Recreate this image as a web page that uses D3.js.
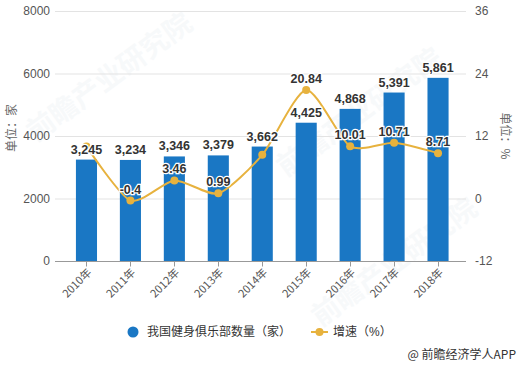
<!DOCTYPE html>
<html>
<head>
<meta charset="utf-8">
<script src="https://cdn.jsdelivr.net/npm/d3@7"></script>
<style>
  body { margin: 0; background: #fff; }
  text { font-family: "Liberation Sans", "Noto Sans CJK SC", sans-serif; }
</style>
</head>
<body>
<svg id="chart"></svg>
<script>
// data
var years = ["2010年", "2011年", "2012年", "2013年", "2014年", "2015年", "2016年", "2017年", "2018年"];
var clubs = [3245, 3234, 3346, 3379, 3662, 4425, 4868, 5391, 5861];
var growth = [10, -0.4, 3.46, 0.99, 8.38, 20.84, 10.01, 10.71, 8.71];
// growth labels hidden where they overlap the bar labels
var growthLabels = [null, "-0.4", "3.46", "0.99", null, "20.84", "10.01", "10.71", "8.71"];
var leftTicks = [0, 2000, 4000, 6000, 8000];
var rightTicks = [-12, 0, 12, 24, 36];

var width = 522, height = 366;
var margin = {left: 55, right: 56, top: 11, bottom: 105};
var blue = "#1a77c4", gold = "#e7b23e";

var svg = d3.select("#chart")
  .attr("width", width)
  .attr("height", height);

// faint watermark
[[115, 85], [365, 120], [400, 270]].forEach(function(p) {
  svg.append("text")
    .attr("transform", "translate(" + p[0] + "," + p[1] + ")rotate(-36)")
    .attr("text-anchor", "middle")
    .style("font-family", "Noto Sans CJK SC")
    .style("font-size", "28px")
    .style("font-weight", "bold")
    .style("fill", "#c5d3e0")
    .style("opacity", 0.13);
});
svg.selectAll("text").text("前瞻产业研究院");

var x = d3.scaleBand()
  .domain(years)
  .range([64.5, 460])
  .paddingInner(0.52)
  .paddingOuter(0.26);

var y = d3.scaleLinear()
  .domain([0, 8000])
  .range([height - margin.bottom, margin.top]);

var y2 = d3.scaleLinear()
  .domain([-12, 36])
  .range([height - margin.bottom, margin.top]);

// gridlines
svg.append("g")
  .selectAll("line")
  .data(leftTicks.slice(1))
  .enter()
  .append("line")
  .attr("x1", margin.left)
  .attr("x2", width - margin.right)
  .attr("y1", function(d) { return y(d) + 0.5; })
  .attr("y2", function(d) { return y(d) + 0.5; })
  .style("stroke", "#e3e3e3");

// left axis labels
svg.append("g")
  .selectAll("text")
  .data(leftTicks)
  .enter()
  .append("text")
  .attr("x", 50)
  .attr("y", function(d) { return y(d); })
  .attr("dy", "0.35em")
  .attr("text-anchor", "end")
  .style("font-size", "12px")
  .style("fill", "#555")
  .text(function(d) { return d; });

// right axis labels
svg.append("g")
  .selectAll("text")
  .data(rightTicks)
  .enter()
  .append("text")
  .attr("x", 475)
  .attr("y", function(d) { return y2(d); })
  .attr("dy", "0.35em")
  .style("font-size", "12px")
  .style("fill", "#555")
  .text(function(d) { return d; });

// axis titles
svg.append("text")
  .attr("transform", "translate(16,128)rotate(-90)")
  .attr("text-anchor", "middle")
  .style("font-family", "Noto Sans CJK SC")
  .style("font-size", "12px")
  .style("fill", "#666")
  .text("单位：家");

svg.append("text")
  .attr("transform", "translate(501,136)rotate(90)")
  .attr("text-anchor", "middle")
  .style("font-family", "Noto Sans CJK SC")
  .style("font-size", "12px")
  .style("fill", "#666")
  .text("单位：%");

// bars
svg.append("g")
  .selectAll("rect")
  .data(clubs)
  .enter()
  .append("rect")
  .attr("x", function(d, i) { return x(years[i]); })
  .attr("width", x.bandwidth())
  .attr("y", function(d) { return y(d); })
  .attr("height", function(d) { return y(0) - y(d); })
  .attr("fill", blue);

// bottom axis
var xAxis = svg.append("g")
  .attr("transform", "translate(0," + (y(0) + 0.5) + ")");
xAxis.append("line")
  .attr("x1", margin.left)
  .attr("x2", width - margin.right)
  .style("stroke", "#999");
xAxis.selectAll(".tk")
  .data(years)
  .enter()
  .append("line")
  .attr("x1", function(d) { return Math.round(x(d) + x.bandwidth() / 2) + 0.5; })
  .attr("x2", function(d) { return Math.round(x(d) + x.bandwidth() / 2) + 0.5; })
  .attr("y1", 0)
  .attr("y2", 5)
  .style("stroke", "#999");
xAxis.selectAll(".lb")
  .data(years)
  .enter()
  .append("text")
  .attr("transform", function(d) {
    return "translate(" + (x(d) + x.bandwidth() / 2 + 3) + ",9)rotate(-45)";
  })
  .attr("text-anchor", "end")
  .attr("dy", "0.35em")
  .style("font-family", "Noto Sans CJK SC")
  .style("font-size", "11px")
  .style("fill", "#555")
  .text(function(d) { return d; });

// growth line
var line = d3.line()
  .x(function(d, i) { return x(years[i]) + x.bandwidth() / 2; })
  .y(function(d) { return y2(d); })
  .curve(d3.curveCardinal.tension(0.3));

svg.append("path")
  .datum(growth)
  .attr("d", line)
  .style("fill", "none")
  .style("stroke", gold)
  .style("stroke-width", 2);

svg.append("g")
  .selectAll("circle")
  .data(growth)
  .enter()
  .append("circle")
  .attr("cx", function(d, i) { return x(years[i]) + x.bandwidth() / 2; })
  .attr("cy", function(d) { return y2(d); })
  .attr("r", 4)
  .style("fill", gold);

// bar value labels
svg.append("g")
  .selectAll("text")
  .data(clubs)
  .enter()
  .append("text")
  .attr("x", function(d, i) { return x(years[i]) + x.bandwidth() / 2; })
  .attr("y", function(d) { return y(d) - 6; })
  .attr("text-anchor", "middle")
  .style("font-size", "12.5px")
  .style("font-weight", "bold")
  .style("fill", "#333")
  .style("stroke", "#fff")
  .style("stroke-width", 2.5)
  .style("paint-order", "stroke")
  .text(function(d) { return d3.format(",")(d); });

// growth labels
svg.append("g")
  .selectAll("text")
  .data(growth)
  .enter()
  .filter(function(d, i) { return growthLabels[i] !== null; })
  .append("text")
  .attr("x", function(d) { return x(years[growth.indexOf(d)]) + x.bandwidth() / 2; })
  .attr("y", function(d) { return y2(d) - 7; })
  .attr("text-anchor", "middle")
  .style("font-size", "12.5px")
  .style("font-weight", "bold")
  .style("fill", "#333")
  .style("stroke", "#fff")
  .style("stroke-width", 2.5)
  .style("paint-order", "stroke")
  .text(function(d) { return growthLabels[growth.indexOf(d)]; });

// legend
var legend = svg.append("g")
  .style("font-family", "Noto Sans CJK SC")
  .style("font-size", "12px")
  .style("fill", "#333");
legend.append("circle")
  .attr("cx", 133).attr("cy", 332).attr("r", 5.5)
  .style("fill", blue);
legend.append("text")
  .attr("x", 147).attr("y", 332).attr("dy", "0.35em")
  .text("我国健身俱乐部数量（家）");
legend.append("line")
  .attr("x1", 311).attr("x2", 328).attr("y1", 332).attr("y2", 332)
  .style("stroke", gold).style("stroke-width", 2);
legend.append("circle")
  .attr("cx", 319.5).attr("cy", 332).attr("r", 4)
  .style("fill", gold);
legend.append("text")
  .attr("x", 333).attr("y", 332).attr("dy", "0.35em")
  .text("增速（%）");

// source
svg.append("text")
  .attr("x", 516).attr("y", 355).attr("dy", "0.35em")
  .attr("text-anchor", "end")
  .style("font-family", "Noto Sans CJK SC")
  .style("font-size", "12px")
  .style("fill", "#333")
  .text("@ 前瞻经济学人APP");
</script>
</body>
</html>
